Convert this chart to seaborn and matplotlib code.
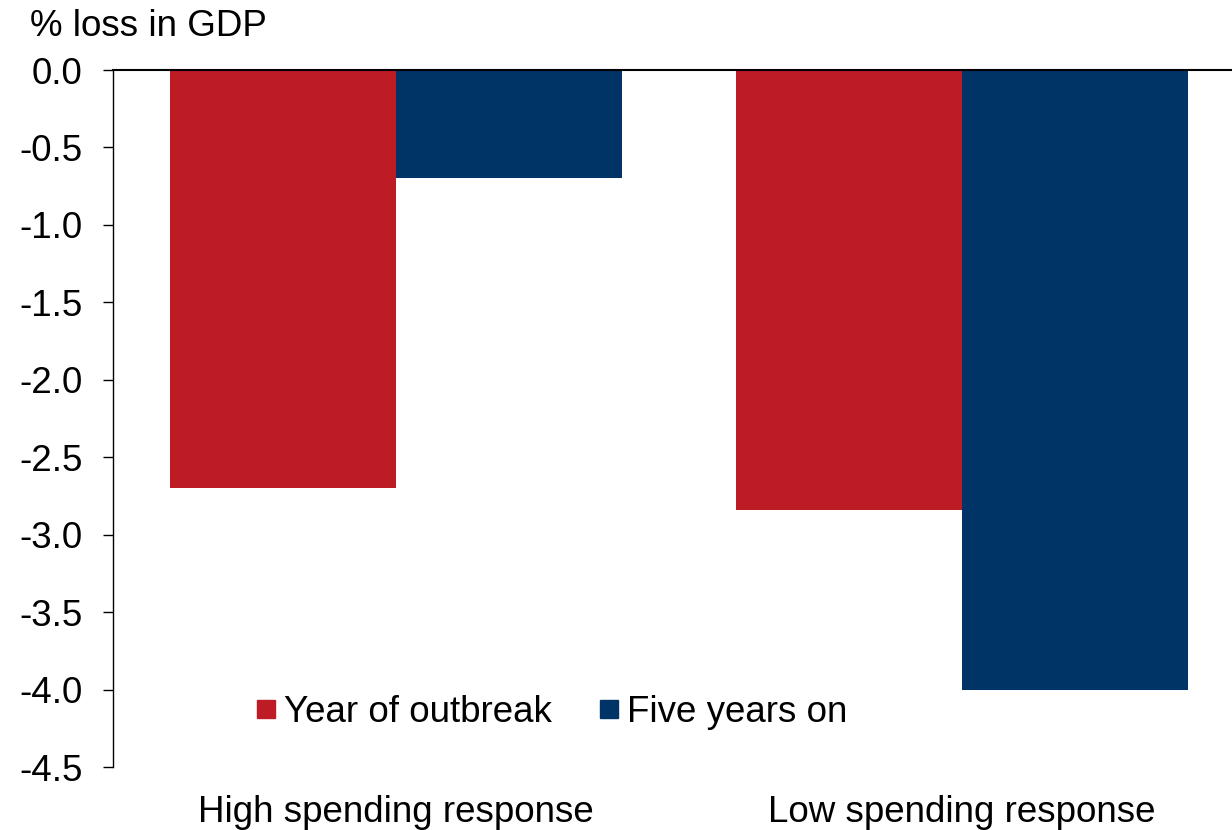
import matplotlib
matplotlib.use("Agg")
import matplotlib.pyplot as plt
from matplotlib.lines import Line2D
import seaborn as sns
import pandas as pd

# Data
categories = ["High spending response", "Low spending response"]
series_names = ["Year of outbreak", "Five years on"]
year_of_outbreak = [-2.70, -2.84]
five_years_on = [-0.70, -4.00]
y_ticks = [0.0, -0.5, -1.0, -1.5, -2.0, -2.5, -3.0, -3.5, -4.0, -4.5]
colors = ["#BE1C24", "#003366"]

df = pd.DataFrame({
    "category": categories * 2,
    "series": [series_names[0]] * 2 + [series_names[1]] * 2,
    "value": year_of_outbreak + five_years_on,
})

sns.set_theme(style="white")
plt.rcParams["font.family"] = ["Liberation Sans", "DejaVu Sans"]
plt.rcParams["text.color"] = "black"

FS = 26.5

fig = plt.figure(figsize=(12.32, 8.30), dpi=100)
ax = fig.add_axes([113 / 1232, 1 - 767 / 830, (1245 - 113) / 1232, (767 - 70) / 830])

sns.barplot(data=df, x="category", y="value", hue="series", order=categories,
            hue_order=series_names, palette=colors, width=0.8, gap=0,
            saturation=1, edgecolor="none", linewidth=0, ax=ax, legend=False)

ax.set_xlim(-0.5, 1.5)
ax.set_ylim(-4.5, 0.0)
ax.set_yticks(y_ticks)
ax.set_yticklabels([f"{t:.1f}" for t in y_ticks])
ax.set_xlabel("")
ax.set_ylabel("")

for s in ["right", "bottom"]:
    ax.spines[s].set_visible(False)
for s in ["left", "top"]:
    ax.spines[s].set_visible(True)
    ax.spines[s].set_color("black")
ax.spines["left"].set_linewidth(1.0)
ax.spines["top"].set_linewidth(1.5)

ax.tick_params(axis="y", direction="out", length=7, width=1.0, color="black",
               labelsize=FS, pad=15, left=True, labelcolor="black")
ax.tick_params(axis="x", length=0, labelsize=FS, pad=20, labelcolor="black")
ax.grid(False)

fig.text(30 / 1232, 1 - 36 / 830, "% loss in GDP", fontsize=FS, ha="left",
         va="baseline", color="black")

handles = [Line2D([0], [0], marker="s", linestyle="none", markersize=13,
                  markerfacecolor=c, markeredgecolor=c, label=n)
           for c, n in zip(colors, series_names)]
leg = ax.legend(handles=handles, ncol=2, frameon=False, fontsize=FS,
                loc="center", bbox_to_anchor=(552 / 1232, 1 - 712 / 830),
                bbox_transform=fig.transFigure, handletextpad=0.25,
                columnspacing=1.3, handlelength=0.5)
for t in leg.get_texts():
    t.set_color("black")

fig.savefig("out.png", dpi=100)
